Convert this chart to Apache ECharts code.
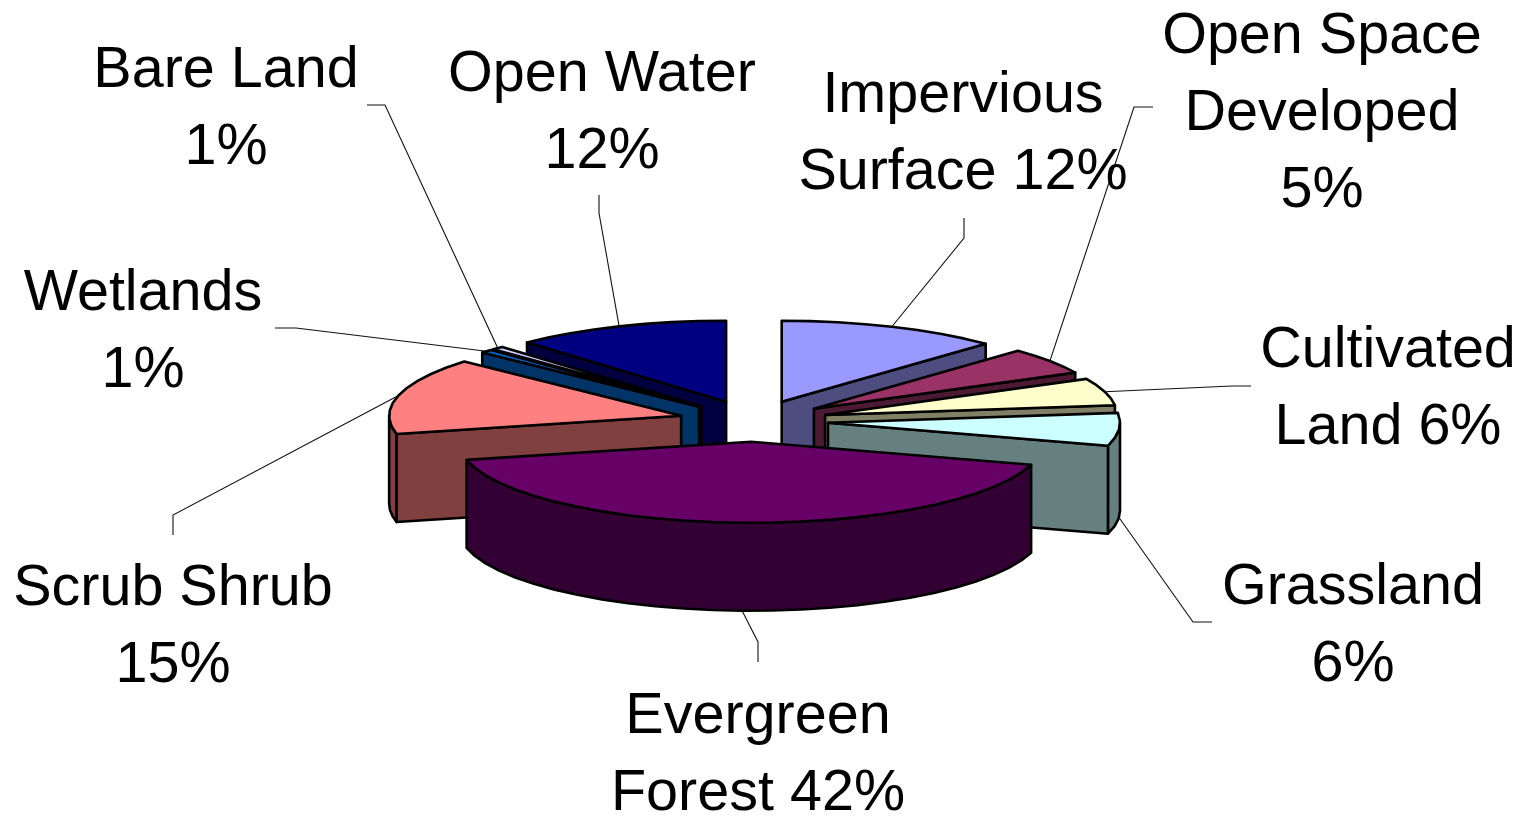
<!DOCTYPE html>
<html><head><meta charset="utf-8">
<style>html,body{margin:0;padding:0;background:#fff}#c{width:1528px;height:816px}</style>
<script src="https://cdn.jsdelivr.net/npm/echarts@6/dist/echarts.min.js"></script>
</head><body><div id="c"></div>
<script>
const categories = ['Impervious Surface','Open Space Developed','Cultivated Land','Grassland','Evergreen Forest','Scrub Shrub','Wetlands','Bare Land','Open Water'];
const shares = [12.31,5.33,5.42,6.53,41.81,15.28,0.69,0.69,11.94];
const labels = ['Impervious\nSurface 12%','Open Space\nDeveloped\n5%','Cultivated\nLand 6%','Grassland\n6%','Evergreen\nForest 42%','Scrub Shrub\n15%','Wetlands\n1%','Bare Land\n1%','Open Water\n12%'];
// Styles and layout
const topColors = ['#9999FF','#993366','#FFFFCC','#CCFFFF','#660066','#FF8080','#0066CC','#CCCCFF','#000080'];
const wallColors = ['#4D4D80','#4D1A33','#808066','#668080','#330033','#804040','#003366','#666680','#000040'];
const labelPos = [[963,135],[1322,114],[1388,390],[1353,627],[758,756],[173,628],[143,333],[226,110],[602,114]];
const leaderElbows = [[[964,218],[964,238]],[[1153,107],[1134,107]],[[1251,386],[1232,386]],[[1212,622],[1193,622]],[[758,662],[758,642]],[[173,535],[173,515]],[[275,328],[296,328]],[[367,105],[385,105]],[[599,195],[599,213]]];
const GEO = {cx:753.5, cy:421, rx:292, ry:81, h:88, explode:0.256, step:6};
const INK = '#000';

const total = shares.reduce((a,b)=>a+b,0);
const starts = []; shares.reduce((acc,v,i)=>{starts[i]=acc;return acc+v;},0);
const toAngle = v => echarts.number.linearMap(v,[0,total],[0,360]);
const rad = d => d*Math.PI/180;

function renderItem(params, api){
  const i = params.dataIndex;
  const a0 = toAngle(starts[i]), a1 = toAngle(starts[i]+api.value(0));
  const mid = (a0+a1)/2;
  const ax = GEO.cx + GEO.explode*GEO.rx*Math.sin(rad(mid));
  const ay = GEO.cy - GEO.explode*GEO.ry*Math.cos(rad(mid));
  const pt = d => [ax+GEO.rx*Math.sin(rad(d)), ay-GEO.ry*Math.cos(rad(d))];
  const down = p => [p[0],p[1]+GEO.h];
  const arc = (s,e) => { const out=[]; const n=Math.max(1,Math.ceil((e-s)/GEO.step));
    for(let k=0;k<=n;k++) out.push(pt(s+(e-s)*k/n)); return out; };
  const base = Math.round(180-Math.abs(mid-180))*10+100;
  const shape = (points,fill,z)=>({type:'polygon',z2:base+z,shape:{points},
    style:{fill,stroke:INK,lineWidth:2.6,lineJoin:'round'}});
  const kids = [];
  // outer wall (the front half of the rim only)
  const fs = Math.max(a0,90), fe = Math.min(a1,270);
  if (fe>fs){ const rim=arc(fs,fe); kids.push(shape(rim.concat(rim.map(down).reverse()),wallColors[i],0)); }
  // radial cut wall facing the viewer
  const apex=[ax,ay];
  if (a1<180){ const c=pt(a1); kids.push(shape([apex,c,down(c),down(apex)],wallColors[i],1)); }
  if (a0>180){ const c=pt(a0); kids.push(shape([apex,c,down(c),down(apex)],wallColors[i],1)); }
  // top face
  kids.push(shape([apex].concat(arc(a0,a1)),topColors[i],2));
  // leader line ends on the slice's mid-rim
  let end = pt(mid); if (mid>90 && mid<270) end = down(end);
  kids.push({type:'polyline',z2:9000,shape:{points:leaderElbows[i].concat([end])},
    style:{fill:null,stroke:'#111',lineWidth:1.1}});
  kids.push({type:'text',z2:9001,style:{text:labels[i],x:labelPos[i][0],y:labelPos[i][1],
    align:'center',verticalAlign:'middle',fill:'#000',
    font:'57.5px "Liberation Sans", Arial, sans-serif',lineHeight:77}});
  return {type:'group',children:kids};
}

const chart = echarts.init(document.getElementById('c'),null,{renderer:'canvas'});
chart.setOption({
  animation:false,
  backgroundColor:'#fff',
  series:[{type:'custom',coordinateSystem:'none',renderItem,
    data:shares.map((v,i)=>({name:categories[i],value:[v]}))}]
});
</script></body></html>
